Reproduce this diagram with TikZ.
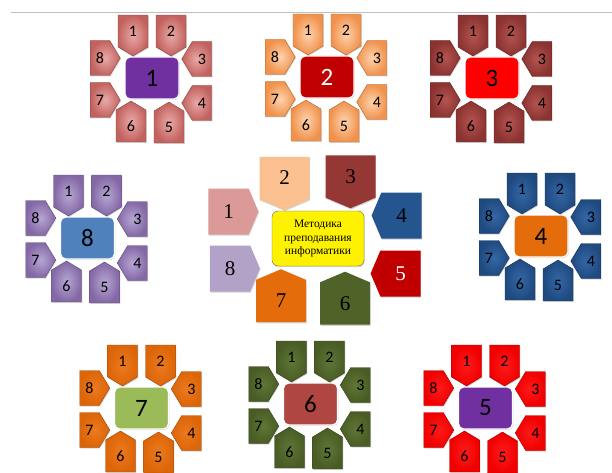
\documentclass[tikz,border=0pt]{standalone}
\usepackage{fontspec}
\setmainfont{Liberation Serif}
\newfontfamily\calibri{Carlito}
\usepackage{tikz}
\usetikzlibrary{shapes.symbols,shadows,positioning}
\usepackage{xcolor}
% petal colours (inner / outer) and hub colours
\definecolor{roseIn}{HTML}{E9A9A7}
\definecolor{roseOut}{HTML}{C2625F}
\definecolor{apriIn}{HTML}{FDD3AE}
\definecolor{apriOut}{HTML}{F1924C}
\definecolor{brickIn}{HTML}{B55450}
\definecolor{brickOut}{HTML}{8A3331}
\definecolor{navyIn}{HTML}{3467A6}
\definecolor{navyOut}{HTML}{1F4A80}
\definecolor{redIn}{HTML}{FF1A1A}
\definecolor{redOut}{HTML}{F00000}
\definecolor{oliveIn}{HTML}{5E7636}
\definecolor{oliveOut}{HTML}{4A5C25}
\definecolor{orngIn}{HTML}{EC7A1E}
\definecolor{orngOut}{HTML}{DC6508}
\definecolor{lilacIn}{HTML}{B6A6D2}
\definecolor{lilacOut}{HTML}{8468A6}
\definecolor{purp}{HTML}{7030A0}
\definecolor{darkred}{HTML}{C00000}
\definecolor{brightred}{HTML}{FF0000}
\definecolor{pumpkin}{HTML}{E46C0A}
\definecolor{rust}{HTML}{B04642}
\definecolor{leaf}{HTML}{9BBB59}
\definecolor{steel}{HTML}{4F81BD}
\definecolor{pinkish}{HTML}{DB9A98}
\definecolor{peach}{HTML}{FAC090}
\definecolor{maroon}{HTML}{953735}
\definecolor{cobalt}{HTML}{24558F}
\definecolor{olive}{HTML}{4F6228}
\definecolor{lavender}{HTML}{B3A2C7}

\begin{document}
\begin{tikzpicture}[x=1pt, y=-1pt,
  hub/.style={rectangle, rounded corners=5pt, draw=white, line width=1.4pt,
              minimum width=54pt, minimum height=42pt,
              font=\calibri\fontsize{25}{27}\selectfont,
              drop shadow={opacity=0.35, shadow xshift=0.8pt, shadow yshift=-1pt}},
  petal/.style={shape=signal, signal pointer angle=118, draw=#1!70!black, thin,
                minimum width=30pt, minimum height=35pt, inner sep=1pt,
                font=\calibri\fontsize{16}{18}\selectfont,
                drop shadow={opacity=0.3, shadow xshift=0.8pt, shadow yshift=-1pt}},
  core/.style={rectangle, rounded corners=6pt, draw=black!60, fill=yellow,
               minimum width=92pt, minimum height=55pt, align=center,
               font=\fontsize{11.5}{13.5}\selectfont,
               drop shadow={opacity=0.3, shadow xshift=0.8pt, shadow yshift=-1pt}},
  bigpetal/.style={shape=signal, signal pointer angle=134, fill=#1,
                   minimum width=50pt, minimum height=46pt,
                   font=\fontsize{21}{23}\selectfont,
                   drop shadow={opacity=0.35, shadow xshift=0.6pt, shadow yshift=-1.2pt}},
]
  \useasboundingbox (0,0) rectangle (612,473);

  % eight small clusters
  \foreach \c/\cx/\cy/\pin/\pout/\bfill/\btxt in {
      1/152/78/roseIn/roseOut/purp/black,
      2/327/77/apriIn/apriOut/darkred/white,
      3/492/78/brickIn/brickOut/brightred/black,
      4/541/236/navyIn/navyOut/pumpkin/black,
      5/485.5/408/redIn/redOut/purp/black,
      6/310.5/404/oliveIn/oliveOut/rust/black,
      7/141.5/408/orngIn/orngOut/leaf/black,
      8/87.5/238/lilacIn/lilacOut/steel/black} {
    \node[hub, fill=\bfill, text=\btxt] (c\c) at (\cx,\cy) {\c};
    \foreach \k/\dx/\dy/\dir in {1/-19/-47/south, 2/19/-47/south,
        3/50/-19/west, 4/50/25/west, 5/17/49/north, 6/-21/48/north,
        7/-52/22/east, 8/-52/-20/east} {
      \node[petal=\pout, signal to=\dir, inner color=\pin, outer color=\pout]
        (c\c-p\k) at (\cx+\dx,\cy+\dy) {\k};
    }
  }

  % middle cluster
  \node[core] (mid) at (318,238.5) {Методика\\преподавания\\информатики};
  \foreach \k/\x/\y/\dir/\col/\txt in {
      1/228.5/211.5/east/pinkish/black, 2/284.5/178/south/peach/black,
      3/350.5/176.5/south/maroon/black, 4/401.5/215.5/west/cobalt/black,
      5/400.5/273.5/west/darkred/white, 6/345/303.5/north/olive/black,
      7/281/301/north/pumpkin/black, 8/230/268.5/east/lavender/black} {
    \node[bigpetal=\col, signal to=\dir, text=\txt] (mid-p\k) at (\x,\y) {\k};
  }

  % ruler line at the top
  \draw[black!25, line width=0.8pt] (11,12) -- (612,12);
\end{tikzpicture}
\end{document}
